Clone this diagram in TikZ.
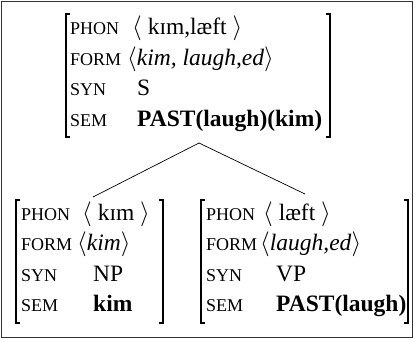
\documentclass[tikz,border=0pt]{standalone}
\usepackage{fontspec}
\setmainfont{Liberation Serif}
\tikzset{
  lbl/.style={anchor=base west, inner sep=0pt, font=\fontsize{18}{18}\selectfont},
  val/.style={anchor=base west, inner sep=0pt, font=\fontsize{23.5}{23.5}\selectfont},
  brk/.style={line width=1.5pt},
  treeedge/.style={line width=0.7pt},
  frame/.style={line width=0.9pt, draw=black!80}
}
\newcommand\avmbrk[4]{%
  \draw[brk] (#1+4,#3) -- (#1,#3) -- (#1,#4) -- (#1+4,#4);
  \draw[brk] (#2-4,#3) -- (#2,#3) -- (#2,#4) -- (#2-4,#4);}
\begin{document}
\begin{tikzpicture}[x=1pt,y=-1pt]
\useasboundingbox (0,0) rectangle (414,339);
\draw[frame] (1.5,1.5) rectangle (412.5,337.5);
% top AVM
\avmbrk{66}{330}{14}{137}
\node[lbl] (sphon) at (70,35) {PHON};
\node[val] (sphonv) at (132,35) {$\langle$ kɪm,læft $\rangle$};
\node[lbl] (sform) at (70,65.5) {FORM};
\node[val] (sformv) at (127,65.5) {$\langle$\textit{kim, laugh,ed}$\rangle$};
\node[lbl] (ssyn) at (70,96) {SYN};
\node[val] (ssynv) at (137,96) {S};
\node[lbl] (ssem) at (70,126.5) {SEM};
\node[val] (ssemv) at (137,126.5) {\textbf{PAST(laugh)(kim)}};
% bottom-left AVM
\avmbrk{16}{163}{200}{323}
\node[lbl] (nphon) at (21,220) {PHON};
\node[val] (nphonv) at (82,220) {$\langle$ kɪm $\rangle$};
\node[lbl] (nform) at (21,250.5) {FORM};
\node[val] (nformv) at (77,250.5) {$\langle$\textit{kim}$\rangle$};
\node[lbl] (nsyn) at (21,281) {SYN};
\node[val] (nsynv) at (93,281) {NP};
\node[lbl] (nsem) at (21,311.5) {SEM};
\node[val] (nsemv) at (93,311.5) {\textbf{kim}};
% bottom-right AVM
\avmbrk{201}{408}{200}{323}
\node[lbl] (vphon) at (206,220) {PHON};
\node[val] (vphonv) at (263,220) {$\langle$ læft $\rangle$};
\node[lbl] (vform) at (206,250.5) {FORM};
\node[val] (vformv) at (260,250.5) {$\langle$\textit{laugh,ed}$\rangle$};
\node[lbl] (vsyn) at (206,281) {SYN};
\node[val] (vsynv) at (276,281) {VP};
\node[lbl] (vsem) at (206,311.5) {SEM};
\node[val] (vsemv) at (276,311.5) {\textbf{PAST(laugh)}};
% tree
\coordinate (apex) at (199,143);
\coordinate (npc) at (93,197);
\coordinate (vpc) at (305,194);
\draw[treeedge] (apex) -- (npc);
\draw[treeedge] (apex) -- (vpc);
\end{tikzpicture}
\end{document}
